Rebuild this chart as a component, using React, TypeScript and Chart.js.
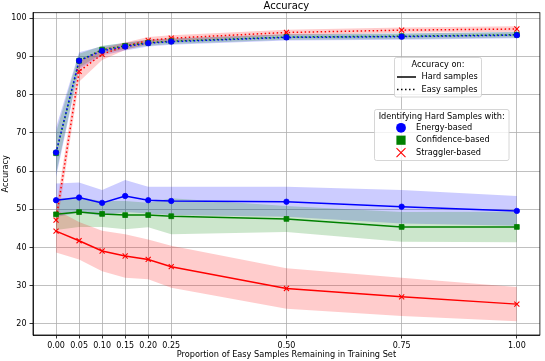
import React, { useEffect, useRef } from 'react';
import { Chart, registerables } from 'chart.js';

Chart.register(...registerables);

const FONT = '"DejaVu Sans", sans-serif';

// ---- data ----
const xValues = [0, 0.05, 0.1, 0.15, 0.2, 0.25, 0.5, 0.75, 1.0];
const xTickValues = [0, 0.05, 0.1, 0.15, 0.2, 0.25, 0.5, 0.75, 1.0];
const yTickValues = [20, 30, 40, 50, 60, 70, 80, 90, 100];

const energyHard = [52.4, 53.1, 51.7, 53.5, 52.4, 52.2, 52.0, 50.7, 49.6];
const energyHardStd = [4.4, 3.9, 3.4, 4.2, 3.5, 3.7, 3.9, 4.4, 3.9];
const confHard = [48.7, 49.3, 48.8, 48.5, 48.5, 48.2, 47.5, 45.4, 45.4];
const confHardStd = [4.1, 3.9, 3.4, 3.7, 3.2, 4.7, 3.4, 3.9, 4.0];
const stragHard = [44.3, 41.8, 39.1, 37.8, 36.9, 35.0, 29.3, 27.1, 25.2];
const stragHardStd = [5.6, 4.9, 5.3, 5.7, 5.2, 5.5, 5.3, 5.0, 4.5];

const energyEasy = [64.9, 88.9, 91.5, 92.6, 93.5, 93.9, 95.0, 95.2, 95.6];
const energyEasyStd = [6.5, 2.2, 1.2, 1.0, 0.9, 0.8, 0.8, 0.8, 0.8];
const confEasy = [64.7, 88.9, 91.8, 92.8, 93.6, 94.0, 95.1, 95.3, 95.7];
const confEasyStd = [5.5, 1.8, 1.0, 0.8, 0.8, 0.7, 0.7, 0.7, 0.7];
const stragEasy = [47.2, 86.1, 90.6, 92.7, 94.2, 94.8, 96.3, 96.9, 97.2];
const stragEasyStd = [3.0, 2.7, 1.5, 1.0, 0.9, 0.8, 0.7, 0.7, 0.7];

const methodLabels = ['Energy-based', 'Confidence-based', 'Straggler-based'];
const typeLabels = ['Hard samples', 'Easy samples'];
const titleText = 'Accuracy';
const xTitle = 'Proportion of Easy Samples Remaining in Training Set';
const yTitle = 'Accuracy';
const legend1Title = 'Accuracy on:';
const legend2Title = 'Identifying Hard Samples with:';

const methods = [
  { label: methodLabels[2], color: '#ff0000', fill: 'rgba(255,0,0,0.2)', hard: stragHard, hardStd: stragHardStd, easy: stragEasy, easyStd: stragEasyStd, style: 'crossRot', r: 3.6, bw: 1.1, order: 3 },
  { label: methodLabels[1], color: '#008000', fill: 'rgba(0,128,0,0.2)', hard: confHard, hardStd: confHardStd, easy: confEasy, easyStd: confEasyStd, style: 'rect', r: 3.4, bw: 0.8, order: 2 },
  { label: methodLabels[0], color: '#0000ff', fill: 'rgba(0,0,255,0.2)', hard: energyHard, hardStd: energyHardStd, easy: energyEasy, easyStd: energyEasyStd, style: 'circle', r: 2.7, bw: 0.8, order: 1 },
];

function pts(vals: number[], off: number[] | null, sign: number) {
  return xValues.map((x, i) => ({ x, y: off ? vals[i] + sign * off[i] : vals[i] }));
}

function buildDatasets() {
  const ds: any[] = [];
  // bands
  methods.forEach((m) => {
    [[m.hard, m.hardStd], [m.easy, m.easyStd]].forEach(([v, s]) => {
      ds.push({ data: pts(v, s, -1), borderWidth: 0, pointRadius: 0, fill: false, order: 10, borderColor: 'transparent' });
      ds.push({ data: pts(v, s, 1), borderWidth: 0, pointRadius: 0, fill: '-1', backgroundColor: m.fill, order: 10, borderColor: 'transparent' });
    });
  });
  // lines
  methods.forEach((m) => {
    [m.hard, m.easy].forEach((v, k) => {
      ds.push({
        label: m.label + ' ' + typeLabels[k],
        data: pts(v, null, 0),
        borderColor: m.color,
        backgroundColor: m.color,
        borderWidth: 1.5,
        borderDash: k === 1 ? [1.5, 2.5] : [],
        pointStyle: m.style,
        pointRadius: m.r,
        pointBackgroundColor: m.color,
        pointBorderColor: m.color,
        pointBorderWidth: m.bw,
        fill: false,
        tension: 0,
        order: m.order,
      });
    });
  });
  return ds;
}

function drawLegendBox(ctx: CanvasRenderingContext2D, x: number, y: number, w: number, h: number) {
  ctx.save();
  ctx.beginPath();
  (ctx as any).roundRect(x, y, w, h, 2);
  ctx.fillStyle = 'rgba(255,255,255,0.8)';
  ctx.fill();
  ctx.strokeStyle = '#cccccc';
  ctx.lineWidth = 0.8;
  ctx.stroke();
  ctx.restore();
}

const decor = {
  id: 'decor',
  afterDraw(chart: any) {
    const ctx: CanvasRenderingContext2D = chart.ctx;
    const a = chart.chartArea;
    ctx.save();
    // spines
    ctx.strokeStyle = '#000';
    ctx.lineWidth = 0.8;
    ctx.strokeRect(a.left, a.top, a.right - a.left, a.bottom - a.top);

    ctx.fillStyle = '#000';
    // title
    ctx.font = `10px ${FONT}`;
    ctx.textAlign = 'center';
    ctx.textBaseline = 'alphabetic';
    ctx.fillText(titleText, (a.left + a.right) / 2, 8.6);

    // x title
    ctx.font = `8.2px ${FONT}`;
    ctx.fillText(xTitle, (a.left + a.right) / 2, 357);

    // y title
    ctx.save();
    ctx.translate(5.5, (a.top + a.bottom) / 2);
    ctx.rotate(-Math.PI / 2);
    ctx.textBaseline = 'middle';
    ctx.fillText(yTitle, 0, 0);
    ctx.restore();

    // legend 1
    drawLegendBox(ctx, 394.5, 57.5, 87, 39.5);
    ctx.fillStyle = '#000';
    ctx.font = `8.2px ${FONT}`;
    ctx.textAlign = 'center';
    ctx.textBaseline = 'middle';
    ctx.fillText(legend1Title, 438, 64.5);
    ctx.textAlign = 'left';
    ctx.fillText(typeLabels[0], 421.5, 77);
    ctx.fillText(typeLabels[1], 421.5, 89.5);
    ctx.strokeStyle = '#000';
    ctx.lineWidth = 1.5;
    ctx.beginPath();
    ctx.moveTo(397, 77);
    ctx.lineTo(416, 77);
    ctx.stroke();
    ctx.setLineDash([1.5, 2.5]);
    ctx.beginPath();
    ctx.moveTo(397, 89.5);
    ctx.lineTo(416, 89.5);
    ctx.stroke();
    ctx.setLineDash([]);

    // legend 2
    drawLegendBox(ctx, 374.5, 109.5, 134.5, 51);
    ctx.fillStyle = '#000';
    ctx.textAlign = 'center';
    ctx.fillText(legend2Title, 441.7, 116.8);
    ctx.textAlign = 'left';
    const rows = [127.8, 140.2, 152.7];
    ctx.fillText(methodLabels[0], 416, rows[0]);
    ctx.fillText(methodLabels[1], 416, rows[1]);
    ctx.fillText(methodLabels[2], 416, rows[2]);
    const mx = 401;
    ctx.fillStyle = '#0000ff';
    ctx.beginPath();
    ctx.arc(mx, rows[0], 4.9, 0, Math.PI * 2);
    ctx.fill();
    ctx.fillStyle = '#008000';
    ctx.fillRect(mx - 4.6, rows[1] - 4.6, 9.2, 9.2);
    ctx.strokeStyle = '#ff0000';
    ctx.lineWidth = 1.1;
    ctx.beginPath();
    ctx.moveTo(mx - 4.5, rows[2] - 4.5);
    ctx.lineTo(mx + 4.5, rows[2] + 4.5);
    ctx.moveTo(mx - 4.5, rows[2] + 4.5);
    ctx.lineTo(mx + 4.5, rows[2] - 4.5);
    ctx.stroke();

    ctx.restore();
  },
};

export default function App() {
  const ref = useRef<HTMLCanvasElement | null>(null);
  useEffect(() => {
    if (!ref.current) return;
    const chart = new Chart(ref.current, {
      type: 'line',
      data: { datasets: buildDatasets() },
      options: {
        animation: false,
        responsive: false,
        devicePixelRatio: 1,
        layout: { padding: { top: 12.7, right: 2, left: 0, bottom: 0 } },
        plugins: {
          legend: { display: false },
          title: { display: false },
          tooltip: { enabled: false },
          filler: { propagate: false },
        },
        scales: {
          x: {
            type: 'linear',
            min: -0.05,
            max: 1.05,
            afterFit: (s: any) => { s.height = 26; },
            afterBuildTicks: (s: any) => { s.ticks = xTickValues.map((v) => ({ value: v })); },
            ticks: {
              color: '#000',
              font: { family: FONT, size: 8 },
              padding: 3,
              maxRotation: 0,
              autoSkip: false,
              callback: (v: any) => Number(v).toFixed(2),
            },
            grid: { color: '#b0b0b0', lineWidth: 0.8, tickColor: '#000', tickLength: 3.5, tickWidth: 0.8 },
            border: { color: '#000', width: 0.8 },
          },
          y: {
            type: 'linear',
            min: 17.12,
            max: 101.47,
            afterFit: (s: any) => { s.width = 33; },
            afterBuildTicks: (s: any) => { s.ticks = yTickValues.map((v) => ({ value: v })); },
            ticks: {
              color: '#000',
              font: { family: FONT, size: 8 },
              padding: 3,
              autoSkip: false,
              callback: (v: any) => String(v),
            },
            grid: { color: '#b0b0b0', lineWidth: 0.8, tickColor: '#000', tickLength: 3.5, tickWidth: 0.8 },
            border: { color: '#000', width: 0.8 },
          },
        },
      },
      plugins: [decor],
    } as any);
    return () => chart.destroy();
  }, []);
  return (
    <div style={{ position: 'fixed', left: 0, top: 0, width: 545, height: 361, background: '#fff' }}>
      <canvas ref={ref} width={545} height={361} style={{ display: 'block' }} />
    </div>
  );
}
